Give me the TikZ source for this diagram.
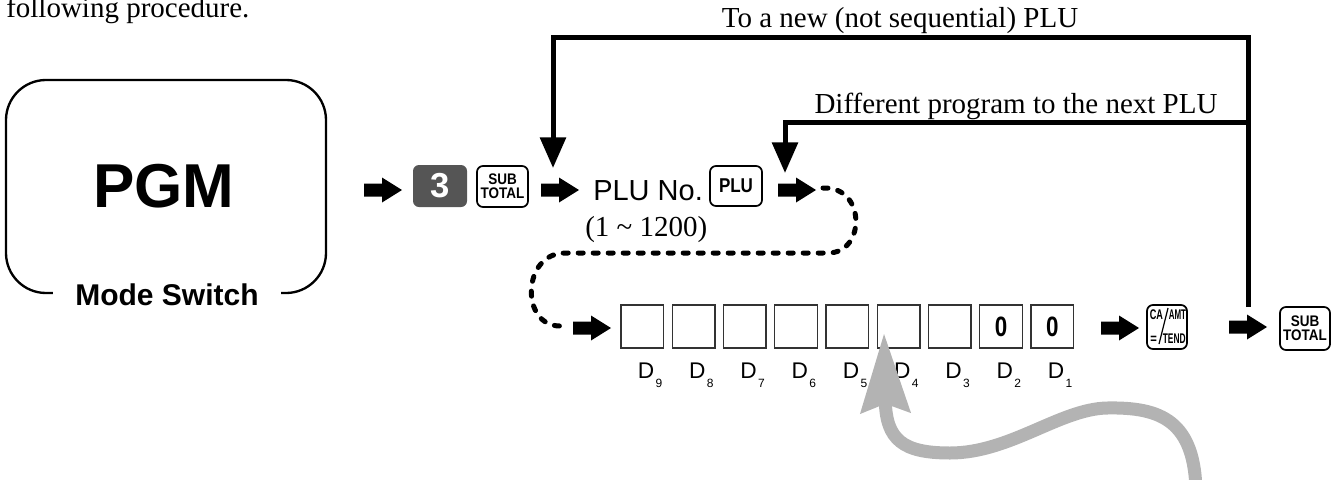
\documentclass[tikz,border=0pt]{standalone}
\usepackage{fontspec}
\setmainfont{Liberation Serif}
\setsansfont{Liberation Sans}
\usetikzlibrary{arrows.meta}
\definecolor{keygray}{HTML}{555555}
\definecolor{curvegray}{HTML}{B3B3B3}
\definecolor{boxline}{HTML}{333333}
\newcommand{\blkarrow}[3]{%
  \coordinate (#1) at (#2,#3);
  \fill[black] (#1) ++(0,-6.5) -- ++(18,0) -- ++(0,-6) -- ++(20,12.5) -- ++(-20,12.5) -- ++(0,-6) -- ++(-18,0) -- cycle;}
\begin{document}
\begin{tikzpicture}[x=0.75pt,y=-0.75pt,
  serif/.style={font=\fontsize{21.75}{24}\selectfont, inner sep=0pt},
  keybox/.style={draw=black, line width=1.3pt, rounded corners=4.5pt, inner sep=0pt},
  keyfont/.style={font=\sffamily\bfseries\fontsize{11.5}{10.5}\selectfont, align=center},
  digitbox/.style={draw=boxline, line width=1.1pt, minimum width=31.9pt, minimum height=32.25pt, inner sep=0pt},
  loopline/.style={line width=3.75pt, -{Triangle[length=23pt,width=19pt]}},
  dotline/.style={line width=3.75pt, line cap=round, dash pattern=on 3.75pt off 7.5pt},
  dlabel/.style={font=\sffamily\fontsize{17}{17}\selectfont, inner sep=0pt, anchor=base west},
  tiny/.style={font=\sffamily\bfseries\fontsize{10.5}{10.5}\selectfont, inner sep=0pt, anchor=base west},
]
\useasboundingbox (0,0) rectangle (1342,479);

% top text
\node[serif, anchor=base west] (intro) at (6,17) {following procedure.};

% PGM mode switch
\node[draw, line width=1.75pt, rounded corners=30pt, minimum width=240pt, minimum height=159.75pt] (pgm) at (166,186.5) {};
\node[font=\sffamily\bfseries\fontsize{46.5}{50}\selectfont, inner sep=0pt] (pgmt) at (164,186) {PGM};
\node[fill=white, inner xsep=16.7pt, inner ysep=2pt, font=\sffamily\bfseries\fontsize{22.5}{24}\selectfont] (ms) at (167,294.5) {Mode Switch};

% first row
\blkarrow{a1}{364}{190}
\node[fill=keygray, rounded corners=4.5pt, minimum width=40.5pt, minimum height=31.5pt, inner sep=0pt, text=white, font=\sffamily\bfseries\fontsize{26}{26}\selectfont] (k3) at (440,186) {3};
\node[keybox, keyfont, minimum width=38.25pt, minimum height=30.75pt] (sub1) at (502.5,186.5) {\scalebox{0.88}[1]{SUB}\\\scalebox{0.88}[1]{TOTAL}};
\blkarrow{a2}{541}{190}
\node[font=\sffamily\fontsize{21.75}{24}\selectfont, inner sep=0pt, anchor=base west] (pluno) at (593,200) {PLU No.};
\node[serif, anchor=base west] (range) at (585,236) {(1 \textasciitilde{} 1200)};
\node[keybox, font=\sffamily\bfseries\fontsize{15}{15}\selectfont, minimum width=39pt, minimum height=30pt] (plu) at (736,186) {\scalebox{0.85}[1]{PLU}};
\blkarrow{a3}{778}{190}

% dashed connector
\coordinate (d0) at (823,188);
\coordinate (d1) at (560,326);
\draw[dotline] (d0) .. controls (866,186) and (866,253) .. (828,253) -- (565,253) .. controls (522,253) and (520,326) .. (d1);

% second row
\blkarrow{a4}{573}{328}
\foreach \i in {0,...,8}{
  \node[digitbox] (b\i) at ({642.25+51.25*\i},326.5) {};
}
\foreach \i/\n in {0/9,1/8,2/7,3/6,4/5,5/4,6/3,7/2,8/1}{
  \node[dlabel] (l\i) at ({637.5+51.25*\i},378) {D\kern1.2pt\raisebox{-6.75pt}{\fontsize{9}{9}\selectfont\n}};
}
\node[font=\sffamily\bfseries\fontsize{21}{21}\selectfont, inner sep=0pt] (z7) at (b7) {\scalebox{0.8}[1]{0}};
\node[font=\sffamily\bfseries\fontsize{21}{21}\selectfont, inner sep=0pt] (z8) at (b8) {\scalebox{0.8}[1]{0}};

\blkarrow{a5}{1101}{328}
\node[keybox, minimum width=30pt, minimum height=33pt] (ca) at (1167,327) {};
\node[tiny] (caA) at (1149.5,319) {\scalebox{0.65}[1]{CA}};
\node[tiny] (caB) at (1168.5,319) {\scalebox{0.57}[1]{AMT}};
\node[tiny] (caC) at (1150,343) {\scalebox{0.8}[1]{=}};
\node[tiny] (caD) at (1162.5,343) {\scalebox{0.6}[1]{TEND}};
\coordinate (sl1) at (1168,308);
\coordinate (sl2) at (1159,344);
\draw[line width=0.9pt] (sl1) -- (sl2);

\blkarrow{a6}{1229}{327}
\node[keybox, keyfont, minimum width=37.5pt, minimum height=32.25pt] (sub2) at (1305,328.5) {\scalebox{0.88}[1]{SUB}\\\scalebox{0.88}[1]{TOTAL}};

% loop-back connectors
\coordinate (jr) at (1248,307);
\coordinate (c1) at (1248,37);
\coordinate (t1) at (553,168);
\coordinate (c2) at (1248,122);
\coordinate (t2) at (785,173);
\draw[loopline] (jr) -- (c1) -| (t1);
\draw[loopline] (c2) -| (t2);
\node[serif, anchor=base] (lbl1) at (900,27) {To a new (not sequential) PLU};
\node[serif, anchor=base] (lbl2) at (1016,113) {Different program to the next PLU};

% gray arrow
\coordinate (g0) at (1196,495);
\coordinate (g1) at (884,333);
\draw[curvegray, line width=9.75pt, -{Stealth[length=59pt,width=36pt,inset=6pt]}] (g0) .. controls (1196,420) and (1160,407) .. (1107,408) .. controls (1060,409) and (1010,453) .. (950,453) .. controls (903,453) and (886,440) .. (g1);
\end{tikzpicture}
\end{document}
